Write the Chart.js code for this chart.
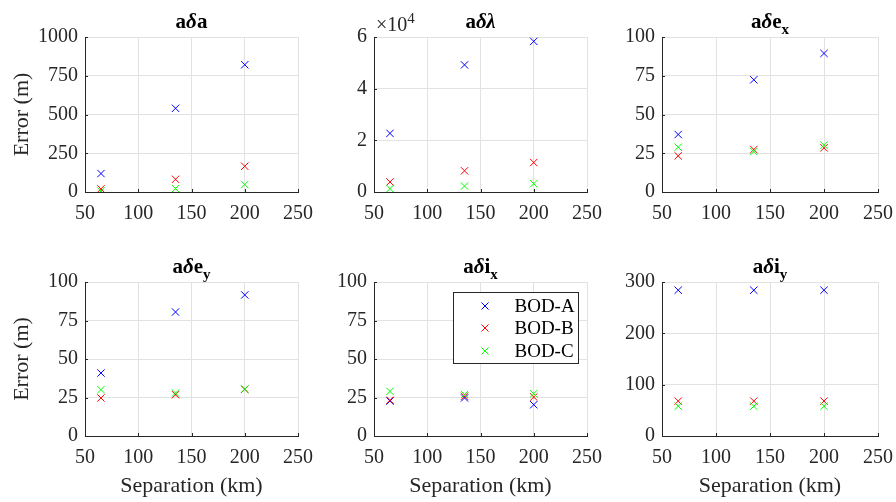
<!DOCTYPE html>
<html>
<head>
<meta charset="utf-8">
<script src="https://cdn.jsdelivr.net/npm/chart.js@4.4.1/dist/chart.umd.min.js"></script>
<style>
  body { margin: 0; background: #fff; }
  #fig { position: relative; width: 896px; height: 502px; overflow: hidden; }
  #fig canvas { position: absolute; }
</style>
</head>
<body>
<div id="fig"></div>
<script>
// Separation (km) and axis ticks
const separation = [65, 135, 200];
const sepTicks = [50, 100, 150, 200, 250];

const seriesNames = ["BOD-A", "BOD-B", "BOD-C"];
const seriesColors = ["#0000ff", "#ff0000", "#00ff00"];

// errors (m) for each element, one array per estimator
const da_A = [119, 540, 821];
const da_B = [20, 82, 166];
const da_C = [6, 22, 48];

const dl_A = [22700, 49200, 58300];
const dl_B = [3900, 8200, 11400];
const dl_C = [1300, 2300, 3200];

const dex_A = [37.1, 72.4, 89.4];
const dex_B = [23.3, 27.4, 28.5];
const dex_C = [28.9, 26.1, 30.2];

const dey_A = [40.9, 80.5, 91.6];
const dey_B = [24.7, 26.8, 30.3];
const dey_C = [30.1, 27.9, 30.5];

const dix_A = [22.7, 24.7, 20.3];
const dix_B = [23.2, 25.8, 25.3];
const dix_C = [29.0, 27.0, 27.5];

const diy_A = [284, 284, 284];
const diy_B = [68, 68, 68];
const diy_C = [58, 58, 58];

const SERIF = "'Liberation Serif', 'Times New Roman', serif";
const INK = "#262626";
const PAD_L = 80, PAD_T = 40, PAD_R = 30, AX_H = 63;

// box = [left, top, width, height] of the plot area
const panels = [
  { box: [85, 37, 213, 155], yMax: 1000, yStep: 250, sets: [da_A, da_B, da_C], title: ["a", "δ", "a", ""], ylab: true },
  { box: [374, 37, 213, 155], yMax: 60000, yStep: 20000, sets: [dl_A, dl_B, dl_C], title: ["a", "δλ", "", ""], exp: 4 },
  { box: [662, 37, 216, 155], yMax: 100, yStep: 25, sets: [dex_A, dex_B, dex_C], title: ["a", "δ", "e", "x"] },
  { box: [85, 282, 213, 154], yMax: 100, yStep: 25, sets: [dey_A, dey_B, dey_C], title: ["a", "δ", "e", "y"], ylab: true, xlab: true },
  { box: [374, 282, 213, 154], yMax: 100, yStep: 25, sets: [dix_A, dix_B, dix_C], title: ["a", "δ", "i", "x"], xlab: true, legend: true },
  { box: [662, 282, 216, 154], yMax: 300, yStep: 100, sets: [diy_A, diy_B, diy_C], title: ["a", "δ", "i", "y"], xlab: true }
];

// titles with subscripts, inward ticks, exponent and legend box
const decor = {
  id: "decor",
  afterDraw(chart, args, opts) {
    const ctx = chart.ctx, a = chart.chartArea;
    const xs = chart.scales.x, ys = chart.scales.y;
    ctx.save();
    ctx.strokeStyle = INK;
    ctx.lineWidth = 1;
    ctx.beginPath();
    xs.ticks.forEach(t => {
      const px = Math.round(xs.getPixelForValue(t.value)) + 0.5;
      ctx.moveTo(px, a.bottom); ctx.lineTo(px, a.bottom - 3);
    });
    ys.ticks.forEach(t => {
      const py = Math.round(ys.getPixelForValue(t.value)) + 0.5;
      ctx.moveTo(a.left, py); ctx.lineTo(a.left + 3, py);
    });
    ctx.stroke();

    // title
    const t = opts.title;
    const fonts = [`bold 21px ${SERIF}`, `italic bold 21px ${SERIF}`, `bold 21px ${SERIF}`, `bold 15px ${SERIF}`];
    const widths = t.map((s, i) => { ctx.font = fonts[i]; return ctx.measureText(s).width; });
    let x = (a.left + a.right) / 2 - widths.reduce((p, q) => p + q, 0) / 2;
    const base = a.top - 9;
    ctx.fillStyle = "#000";
    ctx.textBaseline = "alphabetic";
    ctx.textAlign = "left";
    t.forEach((s, i) => {
      ctx.font = fonts[i];
      ctx.fillText(s, x, i === 3 ? base + 6 : base);
      x += widths[i];
    });

    // exponent label
    if (opts.exp) {
      ctx.fillStyle = INK;
      ctx.font = `20px ${SERIF}`;
      ctx.fillText("×10", a.left + 2, a.top - 6);
      const w = ctx.measureText("×10").width;
      ctx.font = `15px ${SERIF}`;
      ctx.fillText(String(opts.exp), a.left + 2 + w, a.top - 14);
    }

    // legend
    if (opts.legend) {
      const bw = 125, bh = 71;
      const bx = Math.round(a.right - 9 - bw) + 0.5, by = Math.round(a.top + 10) + 0.5;
      ctx.fillStyle = "#fff";
      ctx.fillRect(bx, by, bw, bh);
      ctx.strokeStyle = INK;
      ctx.strokeRect(bx, by, bw, bh);
      ctx.font = `19px ${SERIF}`;
      ctx.textBaseline = "middle";
      seriesNames.forEach((name, i) => {
        const cy = Math.round(by + 13 + i * 22.5);
        const cx = Math.round(bx + 31);
        ctx.strokeStyle = seriesColors[i];
        ctx.lineWidth = 1;
        Chart.helpers.drawPoint(ctx, { pointStyle: "crossRot", radius: 5, borderWidth: 1, rotation: 0 }, cx, cy);
        ctx.fillStyle = "#000";
        ctx.fillText(name, bx + 61, cy + 1);
      });
    }
    ctx.restore();
  }
};

const fig = document.getElementById("fig");

panels.forEach(p => {
  const [L, T, W, H] = p.box;
  const cv = document.createElement("canvas");
  cv.width = PAD_L + W + PAD_R;
  cv.height = PAD_T + H + AX_H;
  fig.appendChild(cv);

  const chart = new Chart(cv.getContext("2d"), {
    type: "scatter",
    data: {
      datasets: p.sets.map((vals, i) => ({
        label: seriesNames[i],
        data: separation.map((s, j) => ({ x: s, y: vals[j] })),
        pointStyle: "crossRot",
        pointRadius: 5.2,
        pointHoverRadius: 5.2,
        borderWidth: 1,
        borderColor: seriesColors[i],
        backgroundColor: seriesColors[i],
        order: 3 - i
      }))
    },
    options: {
      responsive: false,
      maintainAspectRatio: false,
      animation: false,
      events: [],
      layout: { padding: { left: 0, top: PAD_T, right: PAD_R, bottom: 0 } },
      plugins: {
        legend: { display: false },
        tooltip: { enabled: false },
        decor: { title: p.title, exp: p.exp, legend: p.legend }
      },
      scales: {
        x: {
          type: "linear",
          min: sepTicks[0],
          max: sepTicks[sepTicks.length - 1],
          afterBuildTicks: s => { s.ticks = sepTicks.map(v => ({ value: v })); },
          afterFit: s => { s.height = AX_H; },
          grid: { color: "#e2e2e2", drawTicks: false },
          border: { display: true, color: INK },
          ticks: { color: INK, font: { family: SERIF, size: 20 }, padding: 10, maxRotation: 0, autoSkip: false },
          title: { display: !!p.xlab, text: "Separation (km)", color: INK, font: { family: SERIF, size: 22 }, padding: 0 }
        },
        y: {
          min: 0,
          max: p.yMax,
          afterFit: s => { s.width = PAD_L; },
          grid: { color: "#e2e2e2", drawTicks: false },
          border: { display: true, color: INK },
          ticks: {
            stepSize: p.yStep,
            color: INK,
            font: { family: SERIF, size: 20 },
            padding: 7,
            callback: v => p.exp ? v / Math.pow(10, p.exp) : v
          },
          title: { display: !!p.ylab, text: "Error (m)", color: INK, font: { family: SERIF, size: 22 }, padding: { top: 4 } }
        }
      }
    },
    plugins: [decor]
  });

  // grow the canvas until the plot area has the wanted size, then place it
  for (let k = 0; k < 3; k++) {
    const a = chart.chartArea;
    const dw = Math.round(W - (a.right - a.left));
    const dh = Math.round(H - (a.bottom - a.top));
    if (!dw && !dh) break;
    chart.resize(cv.width + dw, cv.height + dh);
  }
  const a = chart.chartArea;
  cv.style.left = Math.round(L - a.left) + "px";
  cv.style.top = Math.round(T - a.top) + "px";
});
</script>
</body>
</html>
